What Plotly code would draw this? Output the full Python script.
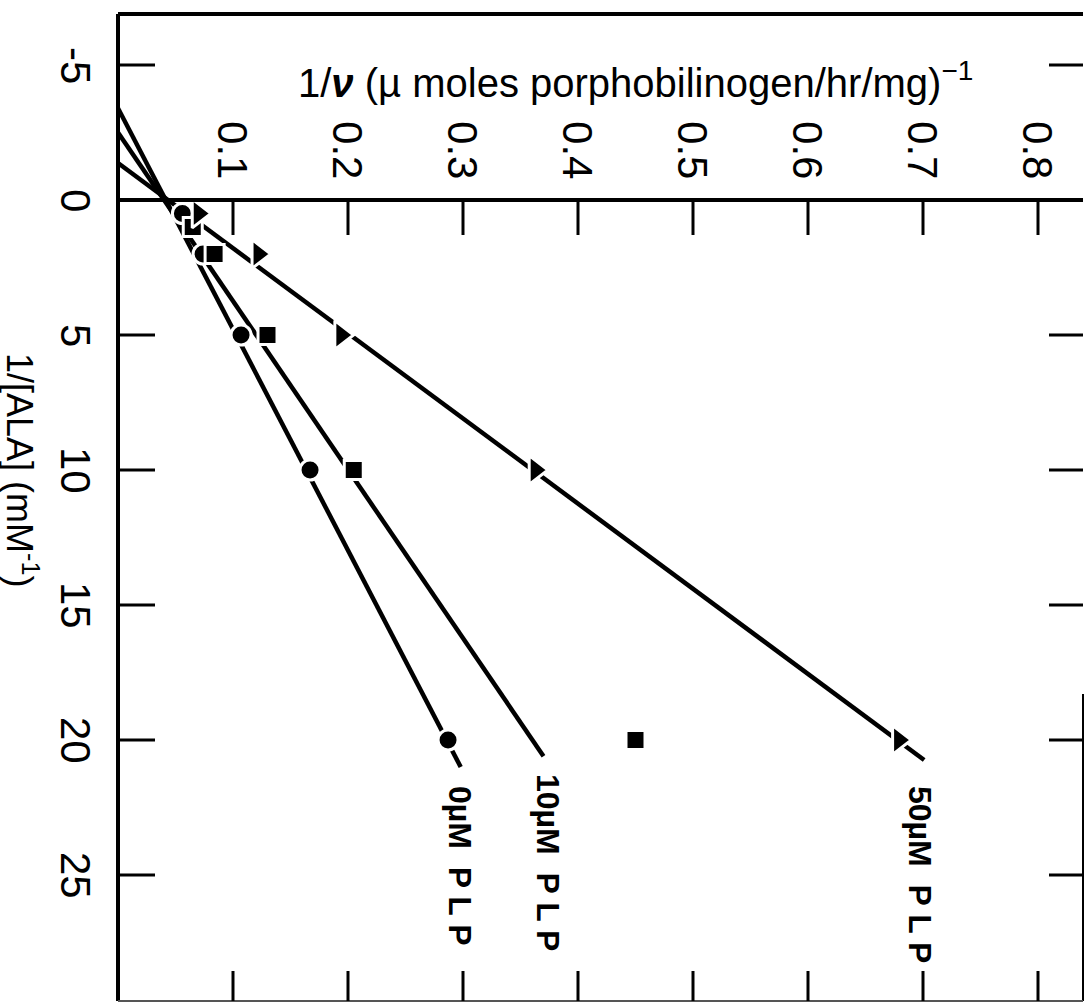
import plotly.graph_objects as go

# ---------------- data ----------------
ala_ticks = [-5, 0, 5, 10, 15, 20, 25]
ala_tick_labels = ["-5", "0", "5", "10", "15", "20", "25"]
v_ticks = [0.1, 0.2, 0.3, 0.4, 0.5, 0.6, 0.7, 0.8]
v_tick_labels = ["0.1", "0.2", "0.3", "0.4", "0.5", "0.6", "0.7", "0.8"]

# measured points: 1/[ALA] (mM^-1) and 1/v
inv_ala_0 = [0.5, 2, 5, 10, 20]
inv_v_0 = [0.056, 0.074, 0.107, 0.167, 0.287]
inv_ala_10 = [1, 2, 5, 10, 20]
inv_v_10 = [0.065, 0.084, 0.130, 0.205, 0.450]
inv_ala_50 = [0.5, 2, 5, 10, 20]
inv_v_50 = [0.070, 0.122, 0.194, 0.363, 0.679]

# drawn fit lines (end points)
fit_ala_0 = [-3.4, 21.0]
fit_v_0 = [0.0, 0.298]
fit_ala_10 = [-2.5, 20.6]
fit_v_10 = [0.0, 0.370]
fit_ala_50 = [-1.37, 20.74]
fit_v_50 = [0.0, 0.701]

series_labels = ["0µM  P L P", "10µM  P L P", "50µM  P L P"]

# ---------------- figure ----------------
W, H = 1085, 1005
ML, MR, MT, MB = 118, 2, 14, 4
PW, PH = W - ML - MR, H - MT - MB
PX_PER_V = 1150.0
PX_PER_A = 27.0
ZERO_Y_PX = 200 - MT  # pixel offset of a=0 from top of plot area

x_range = [0, PW / PX_PER_V]
a_top = -ZERO_Y_PX / PX_PER_A
a_bot = a_top + PH / PX_PER_A
y_range = [a_bot, a_top]

FONT = "Liberation Sans"
BLACK = "#000000"

fig = go.Figure()

for fa, fv in [(fit_ala_0, fit_v_0), (fit_ala_10, fit_v_10), (fit_ala_50, fit_v_50)]:
    fig.add_trace(go.Scatter(x=fv, y=fa, mode="lines",
                             line=dict(color=BLACK, width=4.5), showlegend=False,
                             hoverinfo="skip"))

for xa, yv, sym, sz in [(inv_ala_0, inv_v_0, "circle", 20),
                        (inv_ala_10, inv_v_10, "square", 19),
                        (inv_ala_50, inv_v_50, "triangle-right", 25)]:
    fig.add_trace(go.Scatter(x=yv, y=xa, mode="markers",
                             marker=dict(symbol=sym, size=sz, color=BLACK,
                                         line=dict(color="white", width=3)),
                             showlegend=False))

shapes = []
# frame
shapes.append(dict(type="line", xref="paper", yref="paper", x0=0, x1=0, y0=0, y1=1,
                   line=dict(color=BLACK, width=4)))
shapes.append(dict(type="line", xref="paper", yref="paper", x0=0, x1=1, y0=1, y1=1,
                   line=dict(color=BLACK, width=4)))
shapes.append(dict(type="line", xref="paper", yref="y", x0=1, x1=1, y0=18.3, y1=a_bot,
                   line=dict(color=BLACK, width=2)))
shapes.append(dict(type="line", xref="paper", yref="paper", x0=0, x1=1, y0=0, y1=0,
                   line=dict(color="#555555", width=2)))
# zero line (1/[ALA] = 0)
shapes.append(dict(type="line", xref="paper", yref="y", x0=0, x1=1, y0=0, y1=0,
                   line=dict(color=BLACK, width=4)))
# ticks on left and right
for t in ala_ticks:
    if t == 0:
        continue
    shapes.append(dict(type="line", xref="paper", yref="y", x0=0, x1=37 / PW, y0=t, y1=t,
                       line=dict(color=BLACK, width=3)))
    shapes.append(dict(type="line", xref="paper", yref="y", x0=1 - 34 / PW, x1=1, y0=t, y1=t,
                       line=dict(color=BLACK, width=3)))
# ticks below zero line and at bottom
for t in v_ticks:
    shapes.append(dict(type="line", xref="x", yref="y", x0=t, x1=t, y0=0, y1=35 / PX_PER_A,
                       line=dict(color=BLACK, width=3)))
    shapes.append(dict(type="line", xref="x", yref="paper", x0=t, x1=t, y0=0, y1=30 / PH,
                       line=dict(color=BLACK, width=3)))

ann = []
for t, lab in zip(ala_ticks, ala_tick_labels):
    ann.append(dict(xref="paper", yref="y", x=(76 - ML) / PW, y=t, text=lab,
                    textangle=90, showarrow=False, xanchor="center", yanchor="middle",
                    font=dict(family=FONT, size=42, color=BLACK)))
for t, lab in zip(v_ticks, v_tick_labels):
    ann.append(dict(xref="x", yref="y", x=t, y=-1.85, text=lab,
                    textangle=90, showarrow=False, xanchor="center", yanchor="middle",
                    font=dict(family=FONT, size=42, color=BLACK)))

ann.append(dict(xref="x", yref="y", x=(635 - ML) / PX_PER_V, y=(80 - 200) / PX_PER_A,
                text="1/<b><i>ν</i></b> (µ moles porphobilinogen/hr/mg)<sup>−1</sup>",
                showarrow=False, xanchor="center", yanchor="middle",
                font=dict(family=FONT, size=40, color=BLACK)))
ann.append(dict(xref="paper", yref="y", x=(22 - ML) / PW, y=(470 - 200) / PX_PER_A,
                text="1/[ALA] (mM<sup>-1</sup>)", textangle=90,
                showarrow=False, xanchor="center", yanchor="middle",
                font=dict(family=FONT, size=36, color=BLACK)))

label_pos = [(460, 866), (548, 862), (920, 874)]
for lab, (px, py) in zip(series_labels, label_pos):
    ann.append(dict(xref="x", yref="y", x=(px - ML) / PX_PER_V, y=(py - 200) / PX_PER_A,
                    text="<b>" + lab + "</b>", textangle=90, showarrow=False,
                    xanchor="center", yanchor="middle",
                    font=dict(family=FONT, size=32, color=BLACK)))

fig.update_layout(
    width=W, height=H,
    margin=dict(l=ML, r=MR, t=MT, b=MB, pad=0),
    paper_bgcolor="white", plot_bgcolor="white",
    xaxis=dict(range=x_range, showgrid=False, zeroline=False, showticklabels=False,
               showline=False, ticks=""),
    yaxis=dict(range=y_range, showgrid=False, zeroline=False, showticklabels=False,
               showline=False, ticks=""),
    shapes=shapes, annotations=ann, showlegend=False,
)

fig.write_html("out.html")
